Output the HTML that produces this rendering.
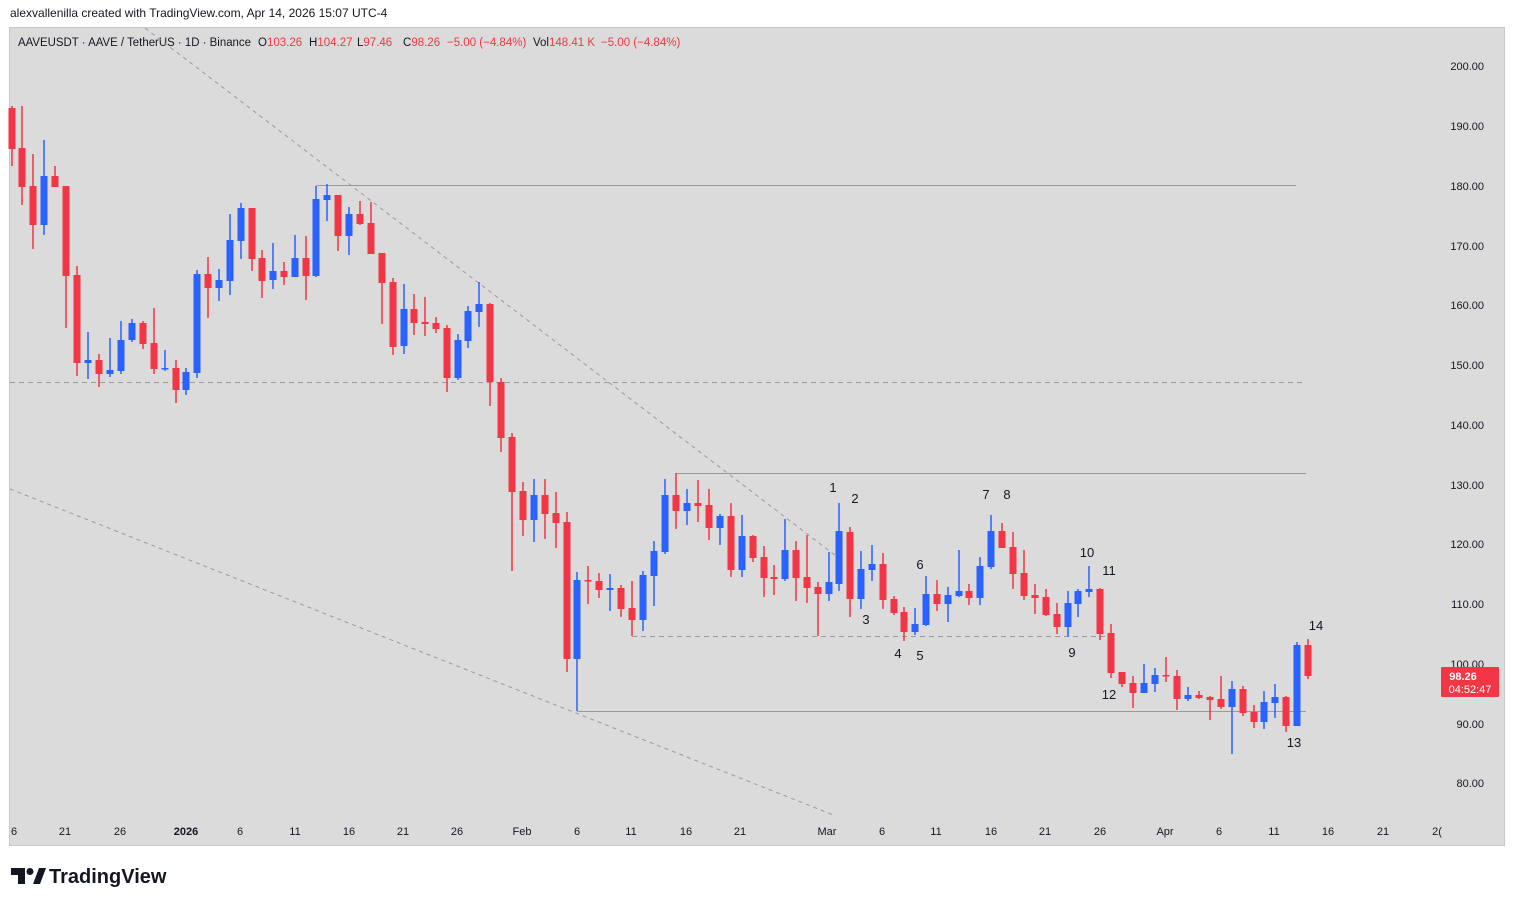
<!DOCTYPE html>
<html><head><meta charset="utf-8"><style>
body{margin:0;width:1515px;height:906px;background:#fff;overflow:hidden;font-family:"Liberation Sans",sans-serif}
svg text{font-family:"Liberation Sans",sans-serif}
</style></head><body>
<svg width="1515" height="906" xmlns="http://www.w3.org/2000/svg">
<rect x="0" y="0" width="1515" height="906" fill="#fff"/>
<text x="10" y="17" font-size="12" fill="#131722">alexvallenilla created with TradingView.com, Apr 14, 2026 15:07 UTC-4</text>
<rect x="9.5" y="27.5" width="1495" height="818" fill="#dbdbdb" stroke="#c8c8c8"/>
<g font-size="11.5" fill="#131722">
<text x="18" y="46" textLength="233" lengthAdjust="spacingAndGlyphs">AAVEUSDT · AAVE / TetherUS · 1D · Binance</text>
<text x="258" y="46">O<tspan fill="#f23645">103.26</tspan></text>
<text x="309" y="46">H<tspan fill="#f23645">104.27</tspan></text>
<text x="357" y="46">L<tspan fill="#f23645">97.46</tspan></text>
<text x="403" y="46">C<tspan fill="#f23645">98.26</tspan></text>
<text x="447" y="46" fill="#f23645">−5.00 (−4.84%)</text>
<text x="533" y="46">Vol<tspan fill="#f23645">148.41 K</tspan></text>
<text x="601" y="46" fill="#f23645">−5.00 (−4.84%)</text>
</g>
<g stroke="#9a9a9a" fill="none" stroke-width="1">
<line x1="316" y1="185.5" x2="1296" y2="185.5"/>
<line x1="676" y1="473.5" x2="1306" y2="473.5"/>
<line x1="577" y1="711.5" x2="1306" y2="711.5"/>
<line x1="577" y1="659" x2="577" y2="711"/>
<line x1="10" y1="382.5" x2="1303" y2="382.5" stroke-dasharray="5,4"/>
<line x1="632" y1="636.5" x2="1110" y2="636.5" stroke-dasharray="5,4"/>
<line x1="145" y1="28" x2="836" y2="556" stroke-dasharray="4,4"/>
<line x1="10" y1="489" x2="836" y2="816" stroke-dasharray="4,4"/>
</g>
<g fill="#f23645" stroke="#f23645">
<path stroke-width="1.5" fill="none" d="M12 106V166M22 106V205M33 154V249M55 166V187M66 186V328M77 266V376M99 354V387M143 321V349M154 308V374M176 360V403M208 257V318M252 208V271M262 250V298M284 262V285M306 236V300M338 195V251M360 201V225M371 202V254M382 253V324M393 278V355M414 294V335M425 297V336M436 317V333M447 325V392M490 303V406M501 378V452M512 433V571M523 482V536M545 479V539M556 492V548M567 512V672M588 566V604M599 573V598M621 585V617M632 581V636M676 473V529M698 480V522M709 489V540M731 503V577M753 535V562M764 546V597M774 565V595M796 541V601M807 535V603M818 582V636M850 527V617M883 553V609M894 596V615M904 607V641M937 580V611M969 584V605M1002 523V548M1013 532V589M1024 550V600M1035 584V614M1046 589V616M1057 603V634M1100 588V640M1111 624V678M1122 672V687M1133 676V708M1166 657V682M1177 670V710M1199 691V699M1210 696V720M1221 676V709M1243 686V716M1254 705V728M1286 696V732M1308 639V679"/>
<g stroke="none">
<rect x="8.5" y="108" width="7" height="41"/><rect x="18.5" y="148" width="7" height="39"/><rect x="29.5" y="186" width="7" height="39"/><rect x="51.5" y="176" width="7" height="11"/><rect x="62.5" y="186" width="7" height="90"/><rect x="73.5" y="275" width="7" height="88"/><rect x="95.5" y="360" width="7" height="14"/><rect x="139.5" y="323" width="7" height="21"/><rect x="150.5" y="343" width="7" height="26"/><rect x="172.5" y="368" width="7" height="22"/><rect x="204.5" y="274" width="7" height="14"/><rect x="248.5" y="208" width="7" height="51"/><rect x="258.5" y="258" width="7" height="23"/><rect x="280.5" y="271" width="7" height="6"/><rect x="302.5" y="258" width="7" height="18"/><rect x="334.5" y="195" width="7" height="41"/><rect x="356.5" y="214" width="7" height="10"/><rect x="367.5" y="223" width="7" height="31"/><rect x="378.5" y="253" width="7" height="30"/><rect x="389.5" y="282" width="7" height="65"/><rect x="410.5" y="309" width="7" height="14"/><rect x="421.5" y="322" width="7" height="2"/><rect x="432.5" y="323" width="7" height="6"/><rect x="443.5" y="328" width="7" height="50"/><rect x="486.5" y="304" width="7" height="78"/><rect x="497.5" y="382" width="7" height="56"/><rect x="508.5" y="437" width="7" height="55"/><rect x="519.5" y="491" width="7" height="29"/><rect x="541.5" y="495" width="7" height="19"/><rect x="552.5" y="513" width="7" height="10"/><rect x="563.5" y="522" width="7" height="137"/><rect x="584.5" y="580" width="7" height="1.5"/><rect x="595.5" y="581" width="7" height="9"/><rect x="617.5" y="588" width="7" height="21"/><rect x="628.5" y="608" width="7" height="12"/><rect x="672.5" y="495" width="7" height="16"/><rect x="694.5" y="503" width="7" height="3"/><rect x="705.5" y="505" width="7" height="23"/><rect x="727.5" y="516" width="7" height="54"/><rect x="749.5" y="536" width="7" height="22"/><rect x="760.5" y="557" width="7" height="21"/><rect x="770.5" y="577" width="7" height="2"/><rect x="792.5" y="550" width="7" height="28"/><rect x="803.5" y="577" width="7" height="11"/><rect x="814.5" y="587" width="7" height="7"/><rect x="846.5" y="532" width="7" height="67"/><rect x="879.5" y="564" width="7" height="36"/><rect x="890.5" y="599" width="7" height="14"/><rect x="900.5" y="612" width="7" height="20"/><rect x="933.5" y="594" width="7" height="10"/><rect x="965.5" y="591" width="7" height="7"/><rect x="998.5" y="531" width="7" height="17"/><rect x="1009.5" y="547" width="7" height="27"/><rect x="1020.5" y="573" width="7" height="23"/><rect x="1031.5" y="595" width="7" height="3"/><rect x="1042.5" y="597" width="7" height="18"/><rect x="1053.5" y="614" width="7" height="13"/><rect x="1096.5" y="589" width="7" height="45"/><rect x="1107.5" y="633" width="7" height="40"/><rect x="1118.5" y="672" width="7" height="12"/><rect x="1129.5" y="683" width="7" height="10"/><rect x="1162.5" y="675" width="7" height="1.5"/><rect x="1173.5" y="676" width="7" height="23"/><rect x="1195.5" y="695" width="7" height="3"/><rect x="1206.5" y="697" width="7" height="3"/><rect x="1217.5" y="699" width="7" height="8"/><rect x="1239.5" y="689" width="7" height="24"/><rect x="1250.5" y="712" width="7" height="10"/><rect x="1282.5" y="697" width="7" height="29"/><rect x="1304.5" y="645" width="7" height="31"/>
</g></g>
<g fill="#2962ff" stroke="#2962ff">
<path stroke-width="1.5" fill="none" d="M44 140V235M88 332V379M110 338V377M121 321V374M132 319V342M165 350V371M186 368V395M197 270V378M219 269V301M230 214V295M241 203V259M273 243V289M295 235V277M316 186V277M327 184V221M349 207V255M404 284V354M458 334V380M468 306V348M479 282V327M534 479V542M577 572V711M610 574V611M643 571V631M654 541V606M665 479V554M687 489V525M720 514V545M742 515V577M785 519V581M829 552V601M839 503V591M861 551V609M872 545V581M915 608V635M926 576V626M948 587V622M959 550V597M980 557V605M991 515V569M1068 591V637M1078 589V617M1089 566V597M1144 664V693M1155 668V692M1188 687V701M1232 681V754M1264 691V729M1275 684V718M1297 642V726"/>
<g stroke="none">
<rect x="40.5" y="176" width="7" height="49"/><rect x="84.5" y="360" width="7" height="3"/><rect x="106.5" y="370" width="7" height="4"/><rect x="117.5" y="340" width="7" height="31"/><rect x="128.5" y="323" width="7" height="17"/><rect x="161.5" y="368" width="7" height="1.5"/><rect x="182.5" y="372" width="7" height="18"/><rect x="193.5" y="274" width="7" height="99"/><rect x="215.5" y="280" width="7" height="8"/><rect x="226.5" y="240" width="7" height="41"/><rect x="237.5" y="208" width="7" height="33"/><rect x="269.5" y="271" width="7" height="9"/><rect x="291.5" y="258" width="7" height="19"/><rect x="312.5" y="199" width="7" height="77"/><rect x="323.5" y="195" width="7" height="5"/><rect x="345.5" y="214" width="7" height="22"/><rect x="400.5" y="309" width="7" height="37"/><rect x="454.5" y="340" width="7" height="38"/><rect x="464.5" y="311" width="7" height="30"/><rect x="475.5" y="304" width="7" height="8"/><rect x="530.5" y="495" width="7" height="25"/><rect x="573.5" y="580" width="7" height="79"/><rect x="606.5" y="588" width="7" height="2"/><rect x="639.5" y="575" width="7" height="45"/><rect x="650.5" y="551" width="7" height="25"/><rect x="661.5" y="495" width="7" height="57"/><rect x="683.5" y="503" width="7" height="8"/><rect x="716.5" y="516" width="7" height="12"/><rect x="738.5" y="536" width="7" height="34"/><rect x="781.5" y="550" width="7" height="29"/><rect x="825.5" y="582" width="7" height="12"/><rect x="835.5" y="531" width="7" height="53"/><rect x="857.5" y="569" width="7" height="30"/><rect x="868.5" y="564" width="7" height="6"/><rect x="911.5" y="624" width="7" height="8"/><rect x="922.5" y="594" width="7" height="31"/><rect x="944.5" y="595" width="7" height="9"/><rect x="955.5" y="591" width="7" height="5"/><rect x="976.5" y="566" width="7" height="32"/><rect x="987.5" y="531" width="7" height="36"/><rect x="1064.5" y="603" width="7" height="24"/><rect x="1074.5" y="591" width="7" height="13"/><rect x="1085.5" y="589" width="7" height="3"/><rect x="1140.5" y="683" width="7" height="10"/><rect x="1151.5" y="675" width="7" height="9"/><rect x="1184.5" y="695" width="7" height="4"/><rect x="1228.5" y="689" width="7" height="18"/><rect x="1260.5" y="702" width="7" height="20"/><rect x="1271.5" y="697" width="7" height="6"/><rect x="1293.5" y="645" width="7" height="81"/>
</g></g>
<g font-size="13" fill="#131722" text-anchor="middle">
<text x="833" y="492">1</text><text x="855" y="503">2</text><text x="866" y="624">3</text><text x="898" y="658">4</text><text x="920" y="660">5</text><text x="920" y="569">6</text><text x="986" y="499">7</text><text x="1007" y="499">8</text><text x="1072" y="657">9</text><text x="1087" y="557">10</text><text x="1109" y="575">11</text><text x="1109" y="699">12</text><text x="1294" y="747">13</text><text x="1316" y="630">14</text>
</g>
<g font-size="11" fill="#131722" text-anchor="end">
<text x="1484" y="70">200.00</text><text x="1484" y="130">190.00</text><text x="1484" y="190">180.00</text><text x="1484" y="250">170.00</text><text x="1484" y="309">160.00</text><text x="1484" y="369">150.00</text><text x="1484" y="429">140.00</text><text x="1484" y="489">130.00</text><text x="1484" y="548">120.00</text><text x="1484" y="608">110.00</text><text x="1484" y="668">100.00</text><text x="1484" y="728">90.00</text><text x="1484" y="787">80.00</text>
</g>
<rect x="1441" y="667" width="58" height="30" fill="#f23645" rx="1"/>
<text x="1463" y="680" font-size="11" fill="#fff" text-anchor="middle" font-weight="bold">98.26</text>
<text x="1470" y="693" font-size="11" fill="#fff" text-anchor="middle">04:52:47</text>
<g font-size="11" fill="#131722" text-anchor="middle">
<text x="14" y="835">6</text><text x="65" y="835">21</text><text x="120" y="835">26</text><text x="186" y="835" font-weight="bold">2026</text><text x="240" y="835">6</text><text x="295" y="835">11</text><text x="349" y="835">16</text><text x="403" y="835">21</text><text x="457" y="835">26</text><text x="522" y="835">Feb</text><text x="577" y="835">6</text><text x="631" y="835">11</text><text x="686" y="835">16</text><text x="740" y="835">21</text><text x="827" y="835">Mar</text><text x="882" y="835">6</text><text x="936" y="835">11</text><text x="991" y="835">16</text><text x="1045" y="835">21</text><text x="1100" y="835">26</text><text x="1165" y="835">Apr</text><text x="1219" y="835">6</text><text x="1274" y="835">11</text><text x="1328" y="835">16</text><text x="1383" y="835">21</text><text x="1437" y="835">2(</text>
</g>
<g fill="#131722">
<path d="M11 868h14v16h-7v-9h-7z"/><circle cx="30" cy="871.5" r="3.5"/><path d="M33 884l6-16h7l-6 16z"/>
</g>
<text x="49" y="883" font-size="20" font-weight="bold" fill="#131722">TradingView</text>
</svg>
</body></html>
